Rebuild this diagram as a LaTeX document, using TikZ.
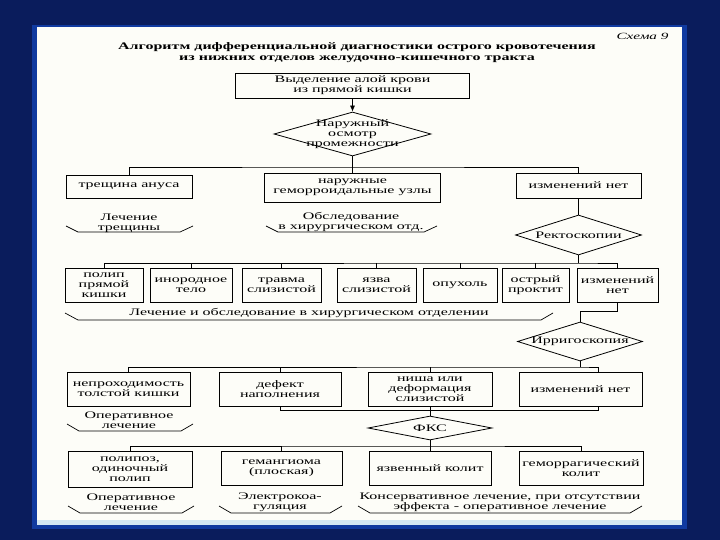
\documentclass[tikz,border=0pt]{standalone}
\usepackage{fontspec}
\setmainfont{Liberation Serif}[FakeStretch=1.6]
\usetikzlibrary{shapes.geometric,arrows.meta}

\definecolor{slidenavy}{RGB}{10,28,92}
\definecolor{slideblue}{RGB}{16,58,160}
\definecolor{paper}{RGB}{253,253,248}
\definecolor{paleband}{RGB}{212,232,244}

\begin{document}
\begin{tikzpicture}[x=1pt,y=-1pt,font=\fontsize{10}{10}\selectfont,
  box/.style={draw,line width=0.9pt,align=center,inner sep=1pt},
  dia/.style={draw,line width=0.8pt,shape=diamond,inner sep=0pt},
  wire/.style={line width=0.6pt},
  tray/.style={line width=0.7pt},
  note/.style={align=center,inner sep=0pt}]
\useasboundingbox (0,0) rectangle (720,540);
% slide and scanned page
\fill[slidenavy] (0,0) rectangle (720,540);
\fill[slideblue] (32,25) rectangle (687,529);
\fill[paper] (37,27) rectangle (682,525);
\fill[paleband] (37,520) rectangle (682,525);

% heading
\node[anchor=east,font=\fontsize{9.5}{10}\itshape] (scheme) at (672,36) {Схема 9};
\node[note,font=\fontsize{10}{11}\bfseries] (title) at (357,52.5)
  {Алгоритм дифференциальной диагностики острого кровотечения\\
   из нижних отделов желудочно-кишечного тракта};

% start and first check
\node[box,minimum width=234pt,minimum height=25pt] (start) at (352.5,85.5) {Выделение алой крови\\из прямой кишки};
\node[dia,minimum width=157pt,minimum height=44pt] (osm) at (352.5,134) {};
\node[note] (osmtxt) at (osm) {Наружный\\осмотр\\промежности};
\draw[wire,-{Latex[length=6pt,width=5pt]}] (start) -- (osm);

% first row
\node[box,minimum width=126pt,minimum height=23pt] (tre) at (129,186.5) {трещина ануса};
\node[box,minimum width=176pt,minimum height=29pt] (nar) at (352.5,187.5) {наружные\\геморроидальные узлы};
\node[box,minimum width=125pt,minimum height=25pt] (niz1) at (578.5,185.5) {изменений нет};
\coordinate (bus1) at (352.5,167);
\draw[wire] (osm.south) -- (bus1) -- (nar.north);
\draw[wire] (tre.north) |- (bus1) -| (niz1.north);

\node[note] (trelech) at (129,223) {Лечение\\трещины};
\draw[tray] (66,226) -- (78,232) -- (180,232) -- (193,226);
\node[note] (narobs) at (351,222) {Обследование\\в хирургическом отд.};
\draw[tray] (266,226) -- (278,232) -- (424,232) -- (437,226);

% rectoscopy
\node[dia,minimum width=126pt,minimum height=40pt] (rek) at (578.5,235) {};
\node[note] (rektxt) at (rek) {Ректоскопии};
\draw[wire] (niz1) -- (rek);

\node[box,minimum width=78pt,minimum height=34pt] (p1) at (104,285) {полип\\прямой\\кишки};
\node[box,minimum width=82pt,minimum height=34pt] (p2) at (191,285) {инородное\\тело};
\node[box,minimum width=79pt,minimum height=34pt] (p3) at (281.5,285) {травма\\слизистой};
\node[box,minimum width=79pt,minimum height=34pt] (p4) at (376.5,285) {язва\\слизистой};
\node[box,minimum width=74pt,minimum height=34pt] (p5) at (460,285) {опухоль};
\node[box,minimum width=67pt,minimum height=34pt] (p6) at (535.5,285) {острый\\проктит};
\node[box,minimum width=81pt,minimum height=34pt] (p7) at (617.5,285) {изменений\\нет};
\coordinate (bus2) at (578.5,263);
\draw[wire] (rek.south) -- (bus2);
\draw[wire] (p1.north) |- (bus2) -| (p7.north);
\foreach \n in {p2,p3,p4,p5,p6}
  \draw[wire] (\n.north) -- (\n.north |- bus2);

\node[note] (plech) at (309,313) {Лечение и обследование в хирургическом отделении};
\draw[tray] (65,313) -- (78,320) -- (541,320) -- (553,313);

% irrigoscopy
\node[dia,minimum width=125pt,minimum height=39pt] (iri) at (580,341.5) {};
\node[note] (iritxt) at (iri) {Ирригоскопия};
\draw[wire] (p7.south) -- ++(0,9) -| (iri.north);

\node[box,minimum width=123pt,minimum height=34pt] (q1) at (128.5,389) {непроходимость\\толстой кишки};
\node[box,minimum width=122pt,minimum height=34pt] (q2) at (280,389) {дефект\\наполнения};
\node[box,minimum width=124pt,minimum height=34pt] (q3) at (430,389) {ниша или\\деформация\\слизистой};
\node[box,minimum width=123pt,minimum height=34pt] (q4) at (580.5,389) {изменений нет};
\coordinate (bus3) at (580,367);
\draw[wire] (iri.south) -- (bus3);
\draw[wire] (q1.north) |- (bus3) -| ([xshift=17.5pt]q4.north);
\foreach \n in {q2,q3}
  \draw[wire] (\n.north) -- (\n.north |- bus3);

\node[note] (qlech) at (129,420.5) {Оперативное\\лечение};
\draw[tray] (67,424) -- (79,431) -- (181,431) -- (193,424);

% colonoscopy
\node[dia,minimum width=124pt,minimum height=24pt] (fks) at (430,428) {};
\node[note] (fkstxt) at (fks) {ФКС};
\draw[wire] (q2.south) -- ++(0,4) -| ([xshift=17.5pt]q4.south);
\draw[wire] (q3) -- (fks);

\node[box,minimum width=124pt,minimum height=36pt] (r1) at (130,469) {полипоз,\\одиночный\\полип};
\node[box,minimum width=121pt,minimum height=34pt] (r2) at (281.5,468) {гемангиома\\(плоская)};
\node[box,minimum width=122pt,minimum height=34pt] (r3) at (430,468) {язвенный колит};
\node[box,minimum width=124pt,minimum height=34pt] (r4) at (581,468) {геморрагический\\колит};
\coordinate (bus5) at (430,446);
\draw[wire] (fks.south) -- (r3.north);
\draw[wire] (r1.north) |- (bus5) -| (r4.north);
\draw[wire] (r2.north) -- (r2.north |- bus5);

\node[note] (rlech1) at (131,502) {Оперативное\\лечение};
\draw[tray] (68,506) -- (80,513) -- (182,513) -- (194,506);
\node[note] (rlech2) at (280,502) {Электрокоа-\\гуляция};
\draw[tray] (219,506) -- (231,513) -- (330,513) -- (342,506);
\node[note] (rlech3) at (500,502) {Консервативное лечение, при отсутствии\\эффекта - оперативное лечение};
\draw[tray] (358,506) -- (370,513) -- (630,513) -- (642,506);
\end{tikzpicture}
\end{document}
